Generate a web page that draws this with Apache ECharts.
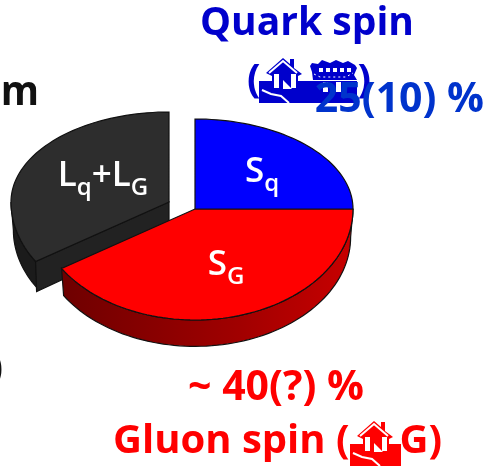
<!DOCTYPE html>
<html>
<head>
<meta charset="utf-8">
<style>html,body{margin:0;padding:0;background:#fff}#chart{width:489px;height:469px}</style>
<script src="https://cdn.jsdelivr.net/npm/echarts@6/dist/echarts.min.js"></script>
</head>
<body>
<div id="chart"></div>
<script>
// slices clockwise from twelve o'clock
const sliceNames = ['Sq', 'SG', 'Lq+LG'];
const sliceShares = [25, 41, 34];
const sliceColors = ['#0000ff', '#ff0000', '#2d2d2d'];

const FONT = '"Open Sans", "Noto Sans", sans-serif';
const DEPTH = 28;
const explode = { 'Lq+LG': [-26, -7] };
const labelAt = { 'Sq': [262, 172], 'SG': [226, 265], 'Lq+LG': [103, 176] };
const labelRich = {
  big: { fontFamily: FONT, fontSize: 35, fontWeight: 600, fill: '#fff', verticalAlign: 'bottom' },
  sub: { fontFamily: FONT, fontSize: 24, fontWeight: 600, fill: '#fff', verticalAlign: 'bottom', padding: [0, 0, -7, 0] }
};

const sideFill = {
  'SG': { type: 'linear', x: 0, y: 0, x2: 1, y2: 0, colorStops: [
    { offset: 0, color: '#6e0000' }, { offset: 0.6, color: '#a00000' }, { offset: 1, color: '#c80000' }] },
  'Lq+LG': '#1b1b1b'
};

// tilted disc: the back half looks shorter than the front half
function rimPoint(api, deg, scale) {
  const a = deg * Math.PI / 180;
  const c = Math.cos(a);
  return api.coord([Math.sin(a) * scale, (c >= 0 ? c : c * 111 / 90) * scale]);
}

function arc(api, from, to, scale, off) {
  const pts = [];
  const n = Math.max(2, Math.ceil((to - from) / 2));
  for (let i = 0; i <= n; i++) {
    const p = rimPoint(api, from + (to - from) * i / n, scale);
    pts.push([p[0] + off[0], p[1] + off[1]]);
  }
  return pts;
}

let total = sliceShares.reduce((a, b) => a + b, 0);
let run = 0;
const sliceStart = sliceShares.map(v => { const s = run; run += v; return s / total * 360; });

function renderSlice(params, api) {
  const name = sliceNames[api.value(0)];
  const from = api.value(1);
  const to = api.value(2);
  const off = explode[name] || [0, 0];
  const line = { stroke: '#111', lineWidth: 1.2 };
  const children = [];
  const apex = api.coord([0, 0]);
  const top = [apex[0] + off[0], apex[1] + off[1]];
  const lo = Math.max(from, 90), hi = Math.min(to, 270);
  if (hi > lo) {
    const upper = arc(api, lo, hi, 1, off);
    const lower = arc(api, lo, hi, 0.985, [off[0], off[1] + DEPTH]);
    children.push({ type: 'polygon', shape: { points: upper.concat(lower.reverse()) },
      style: Object.assign({ fill: sideFill[name] }, line) });
  }
  // cut face of the pulled out slice
  if (explode[name]) {
    const tip = rimPoint(api, from, 1);
    const t = [tip[0] + off[0], tip[1] + off[1]];
    children.push({ type: 'polygon',
      shape: { points: [top, t, [t[0] + 1, t[1] + DEPTH + 2], [top[0], top[1] + DEPTH]] },
      style: Object.assign({ fill: '#222' }, line) });
  }
  children.push({ type: 'polygon',
    shape: { points: [top].concat(arc(api, from, to, 1, off)) },
    style: Object.assign({ fill: sliceColors[api.value(0)] }, line) });
  const pos = labelAt[name];
  const txt = name.replace(/([LS])([qG])/g, '{big|$1}{sub|$2}').replace('+', '{big|+}');
  children.push({ type: 'text', x: pos[0], y: pos[1],
    style: { text: txt, rich: labelRich, align: 'center', verticalAlign: 'middle' } });
  return { type: 'group', children };
}

const rows = sliceNames.map((n, i) => [i, sliceStart[i], sliceStart[i] + sliceShares[i] / total * 360]);

// the garbled symbol-font glyphs of the original slide
function houseIcon(x, y, color) {
  const white = { fill: '#fff' };
  return { type: 'group', x, y, z: 5, children: [
    { type: 'rect', shape: { x: 0, y: 23, width: 51, height: 22 }, style: { fill: color } },
    { type: 'polygon', shape: { points: [[7, 15], [24, 0], [31, 6], [31, 1], [35, 1], [35, 10], [43, 16], [39, 18], [39, 32], [13, 32], [13, 18]] }, style: { fill: color } },
    { type: 'polyline', shape: { points: [[10, 15], [24, 3], [38, 15]] }, style: { fill: 'none', stroke: '#fff', lineWidth: 2 } },
    { type: 'rect', shape: { x: 15, y: 16, width: 5, height: 14 }, style: white },
    { type: 'rect', shape: { x: 32, y: 16, width: 5, height: 14 }, style: white },
    { type: 'polygon', shape: { points: [[24, 22], [33, 31], [24, 31]] }, style: white },
    { type: 'polyline', shape: { points: [[3, 32], [12, 36], [22, 38], [30, 45]] }, style: { fill: 'none', stroke: '#fff', lineWidth: 2 } }
  ] };
}

function stadiumIcon(x, y, color) {
  const windows = [];
  for (let i = 0; i < 5; i++) {
    windows.push({ type: 'rect', shape: { x: 9 + i * 7, y: 8, width: 4, height: 4 }, style: { fill: '#fff' } });
  }
  return { type: 'group', x, y, z: 5, children: [
    { type: 'polygon', shape: { points: [[0, 6], [2, 3], [8, 4], [12, 0], [20, 3], [26, 0], [33, 3], [38, 1], [45, 5], [47, 8], [44, 15], [47, 20], [3, 20], [2, 12]] }, style: { fill: color } },
    { type: 'polyline', shape: { points: [[4, 14], [10, 17], [36, 17], [43, 13]] }, style: { fill: 'none', stroke: '#fff', lineWidth: 1, lineDash: [2, 3] } },
    { type: 'rect', shape: { x: 0, y: 21, width: 47, height: 22 }, style: { fill: color } },
    { type: 'rect', shape: { x: 13, y: 22, width: 5, height: 10 }, style: { fill: '#fff' } },
    { type: 'rect', shape: { x: 26, y: 22, width: 5, height: 10 }, style: { fill: '#fff' } }
  ].concat(windows) };
}

function txt(text, x, y, size, color, align, extra) {
  return Object.assign({ type: 'text', x, y, z: 10,
    style: { text, fontFamily: FONT, fontWeight: 'bold', fontSize: size, fill: color, align: align || 'left', verticalAlign: 'middle' } }, extra);
}

const chart = echarts.init(document.getElementById('chart'), null, { renderer: 'canvas' });
chart.setOption({
  backgroundColor: '#fff',
  animation: false,
  grid: { left: 37, width: 316, top: 119, height: 201 },
  xAxis: { type: 'value', min: -1, max: 1, show: false },
  yAxis: { type: 'value', min: -111 / 90, max: 1, show: false },
  series: [{
    type: 'custom',
    coordinateSystem: 'cartesian2d',
    clip: false,
    silent: true,
    renderItem: renderSlice,
    encode: { x: 1, y: 2 },
    // back to front
    data: [rows[2], rows[1], rows[0]]
  }],
  graphic: [
    txt('Quark spin', 307, 24, 39, '#0000cc', 'center'),
    txt('(', 247, 81, 40, '#0000cc'),
    txt(')', 371, 81, 40, '#0000cc', 'right'),
    houseIcon(259, 58, '#0000cc'),
    stadiumIcon(310, 60, '#0000cc'),
    txt('25(10) %', 484, 100, 41, '#0033cc', 'right'),
    // left side is cut off by the page edge
    txt('m', 39, 93, 41, '#111', 'right', { scaleX: 0.95 }),
    txt('u', 2, 93, 41, '#111', 'right', { scaleX: 0.72 }),
    txt(')', 3, 369, 40, '#111', 'right'),
    txt('~ 40(?) %', 276, 388, 41, '#ff0000', 'center'),
    txt('Gluon spin (', 113, 442, 40, '#ff0000'),
    houseIcon(350, 421, '#ff0000'),
    txt('G)', 442, 442, 40, '#ff0000', 'right')
  ]
});
</script>
</body>
</html>
